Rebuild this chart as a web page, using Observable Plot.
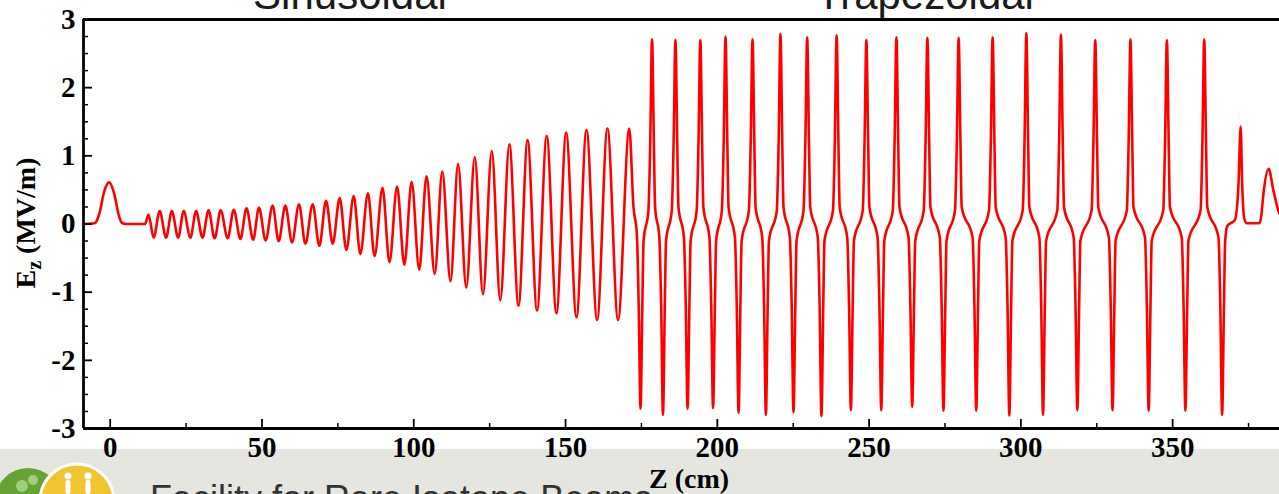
<!DOCTYPE html>
<html>
<head>
<meta charset="utf-8">
<script src="https://cdn.jsdelivr.net/npm/d3@7"></script>
<script src="https://cdn.jsdelivr.net/npm/@observablehq/plot@0.6"></script>
<style>
  html, body { margin: 0; padding: 0; background: #ffffff; }
  #wrap { position: relative; width: 1279px; height: 494px; overflow: hidden; }
  #bg, #fg, #chart { position: absolute; left: 0; top: 0; }
  #fg { pointer-events: none; }
</style>
</head>
<body>
<div id="wrap">
  <svg id="bg" width="1279" height="494">
    <rect x="0" y="449" width="1279" height="45" fill="#e5e6df"></rect>
    <circle cx="28" cy="501" r="33" fill="#64a434"></circle>
    <circle cx="22" cy="486" r="6" fill="#9fcf7a"></circle>
    <circle cx="33" cy="480" r="5" fill="#9fcf7a"></circle>
    <circle cx="77" cy="501" r="37" fill="#f0c531" stroke="#ffffff" stroke-width="3"></circle>
    <circle cx="68" cy="476" r="3.5" fill="#ffffff"></circle>
    <rect x="65.5" y="480" width="5" height="14" rx="2" fill="#ffffff"></rect>
    <circle cx="88" cy="476" r="3.5" fill="#ffffff"></circle>
    <rect x="85.5" y="480" width="5" height="14" rx="2" fill="#ffffff"></rect>
    <text x="150" y="511" font-family="'Liberation Sans', Arial, sans-serif" font-size="36" fill="#333333">Facility for Rare Isotope Beams</text>
  </svg>
  <div id="chart"></div>
  <svg id="fg" width="1279" height="494">
    <text x="350" y="9" text-anchor="middle" font-family="'Liberation Sans', Arial, sans-serif" font-size="42" fill="#1b1b1b">Sinusoidal</text>
    <text x="925" y="9" text-anchor="middle" font-family="'Liberation Sans', Arial, sans-serif" font-size="42" fill="#1b1b1b">Trapezoidal</text>
    <text transform="translate(35,223) rotate(-90)" text-anchor="middle" font-family="'Liberation Serif', 'Times New Roman', serif" font-weight="bold" font-size="28" fill="#000">E<tspan font-size="20" dy="6">z</tspan><tspan dy="-6"> (MV/m)</tspan></text>
    <text x="689" y="488" text-anchor="middle" font-family="'Liberation Serif', 'Times New Roman', serif" font-weight="bold" font-size="28" fill="#000">Z (cm)</text>
  </svg>
</div>
<script>
// ---- Data (Z in cm, Ez in MV/m) ----
const xDomain = [-8.8, 385.2];
const yDomain = [-3, 3];

const xMajorTicks = [0, 50, 100, 150, 200, 250, 300, 350];
const xMinorTicks = [25, 75, 125, 175, 225, 275, 325, 375];
const yMajorTicks = [-3, -2, -1, 0, 1, 2, 3];
const yMinorTicks = [-2.75, -2.5, -2.25, -1.75, -1.5, -1.25, -0.75, -0.5, -0.25,
                     0.25, 0.5, 0.75, 1.25, 1.5, 1.75, 2.25, 2.5, 2.75];

// entrance bump and drift
const entrance = [
  [-8.8, 0.00], [-5.2, 0.01], [-4.4, 0.05], [-3.3, 0.20], [-2.2, 0.44], [-0.3, 0.61],
  [1.6, 0.39], [2.7, 0.15], [3.8, 0.02], [5.0, 0.00], [11.5, 0.00]
];

// sinusoidal section: crests and troughs
const sinusoidal = [
  [12.6, 0.14], [14.3, -0.20], [16.3, 0.19], [18.4, -0.20], [20.3, 0.19], [22.4, -0.20],
  [24.2, 0.19], [26.4, -0.20], [28.3, 0.19], [30.4, -0.20], [32.4, 0.20], [34.4, -0.21],
  [36.4, 0.20], [38.7, -0.21], [40.7, 0.21], [42.9, -0.22], [44.9, 0.23], [47.1, -0.23],
  [49.0, 0.24], [51.2, -0.24], [53.5, 0.27], [55.5, -0.25], [57.7, 0.27], [59.9, -0.27],
  [62.2, 0.29], [64.3, -0.29], [66.7, 0.29], [68.9, -0.32], [71.1, 0.34], [73.3, -0.29],
  [75.6, 0.38], [77.8, -0.38], [80.2, 0.41], [82.4, -0.44], [84.9, 0.45], [87.1, -0.47],
  [89.7, 0.53], [92.0, -0.56], [94.5, 0.55], [96.9, -0.60], [99.3, 0.62], [101.8, -0.67],
  [104.2, 0.70], [106.9, -0.73], [109.4, 0.77], [112.1, -0.84], [114.6, 0.88], [117.3, -0.93],
  [120.1, 0.98], [122.8, -1.03], [125.7, 1.07], [128.5, -1.12], [131.5, 1.17], [134.5, -1.20],
  [137.5, 1.23], [140.6, -1.27], [143.8, 1.29], [147.0, -1.31], [150.2, 1.34], [153.6, -1.37],
  [156.9, 1.38], [160.4, -1.41], [163.8, 1.40], [167.3, -1.41], [171.0, 1.40],
  [172.4, 0.24], [173.5, -0.15], [174.1, -1.2]
];

// trapezoidal section: troughs, knees and crests
const trapezoidal = [
  [174.7, -2.71], [175.3, -1.2], [175.7, -0.25], [177.3, 0.2], [177.9, 1.2],
  [178.5, 2.71], [179.1, 1.2], [179.5, 0.25], [180.9, -0.2], [181.5, -1.2],
  [182.1, -2.80], [182.7, -1.2], [183.1, -0.25], [185.0, 0.2], [185.6, 1.2],
  [186.2, 2.70], [186.8, 1.2], [187.2, 0.25], [189.0, -0.2], [189.6, -1.2],
  [190.2, -2.71], [190.8, -1.2], [191.2, -0.25], [193.2, 0.2], [193.8, 1.2],
  [194.4, 2.70], [195.0, 1.2], [195.4, 0.25], [197.4, -0.2], [198.0, -1.2],
  [198.6, -2.70], [199.2, -1.2], [199.6, -0.25], [201.5, 0.2], [202.1, 1.2],
  [202.7, 2.75], [203.3, 1.2], [203.7, 0.25], [205.8, -0.2], [206.4, -1.2],
  [207.0, -2.77], [207.6, -1.2], [208.0, -0.25], [210.4, 0.2], [211.0, 1.2],
  [211.6, 2.71], [212.2, 1.2], [212.6, 0.25], [214.8, -0.2], [215.4, -1.2],
  [216.0, -2.80], [216.6, -1.2], [217.0, -0.25], [219.6, 0.2], [220.2, 1.2],
  [220.8, 2.79], [221.4, 1.2], [221.8, 0.25], [223.9, -0.2], [224.5, -1.2],
  [225.1, -2.76], [225.7, -1.2], [226.1, -0.25], [228.4, 0.2], [229.0, 1.2],
  [229.6, 2.74], [230.2, 1.2], [230.6, 0.25], [233.1, -0.2], [233.7, -1.2],
  [234.3, -2.82], [234.9, -1.2], [235.3, -0.25], [238.1, 0.2], [238.7, 1.2],
  [239.3, 2.77], [239.9, 1.2], [240.3, 0.25], [242.8, -0.2], [243.4, -1.2],
  [244.0, -2.73], [244.6, -1.2], [245.0, -0.25], [247.9, 0.2], [248.5, 1.2],
  [249.1, 2.70], [249.7, 1.2], [250.1, 0.25], [252.8, -0.2], [253.4, -1.2],
  [254.0, -2.73], [254.6, -1.2], [255.0, -0.25], [257.8, 0.2], [258.4, 1.2],
  [259.0, 2.74], [259.6, 1.2], [260.0, 0.25], [263.0, -0.2], [263.6, -1.2],
  [264.2, -2.68], [264.8, -1.2], [265.2, -0.25], [268.0, 0.2], [268.6, 1.2],
  [269.2, 2.73], [269.8, 1.2], [270.2, 0.25], [273.3, -0.2], [273.9, -1.2],
  [274.5, -2.74], [275.1, -1.2], [275.5, -0.25], [278.3, 0.2], [278.9, 1.2],
  [279.5, 2.73], [280.1, 1.2], [280.5, 0.25], [284.1, -0.2], [284.7, -1.2],
  [285.3, -2.74], [285.9, -1.2], [286.3, -0.25], [289.5, 0.2], [290.1, 1.2],
  [290.7, 2.74], [291.3, 1.2], [291.7, 0.25], [295.0, -0.2], [295.6, -1.2],
  [296.2, -2.81], [296.8, -1.2], [297.2, -0.25], [300.6, 0.2], [301.2, 1.2],
  [301.8, 2.80], [302.4, 1.2], [302.8, 0.25], [306.1, -0.2], [306.7, -1.2],
  [307.3, -2.80], [307.9, -1.2], [308.3, -0.25], [312.0, 0.2], [312.6, 1.2],
  [313.2, 2.78], [313.8, 1.2], [314.2, 0.25], [317.4, -0.2], [318.0, -1.2],
  [318.6, -2.73], [319.2, -1.2], [319.6, -0.25], [323.3, 0.2], [323.9, 1.2],
  [324.5, 2.70], [325.1, 1.2], [325.5, 0.25], [329.0, -0.2], [329.6, -1.2],
  [330.2, -2.73], [330.8, -1.2], [331.2, -0.25], [334.9, 0.2], [335.5, 1.2],
  [336.1, 2.71], [336.7, 1.2], [337.1, 0.25], [340.9, -0.2], [341.5, -1.2],
  [342.1, -2.74], [342.7, -1.2], [343.1, -0.25], [346.9, 0.2], [347.5, 1.2],
  [348.1, 2.70], [348.7, 1.2], [349.1, 0.25], [353.0, -0.2], [353.6, -1.2],
  [354.2, -2.74], [354.8, -1.2], [355.2, -0.25], [359.2, 0.2], [359.8, 1.2],
  [360.4, 2.71], [361.0, 1.2], [361.4, 0.25], [365.1, -0.2], [365.7, -1.2],
  [366.3, -2.80]
];

// exit: short end cell and exit bump
const exitSection = [
  [366.9, -1.2], [367.3, -0.25], [368.0, -0.03], [370.5, 0.06], [371.7, 0.59],
  [372.4, 1.43], [372.9, 0.59], [373.6, 0.08], [374.5, 0.01], [378.6, 0.01],
  [379.2, 0.12], [379.9, 0.44], [381.6, 0.81], [383.2, 0.49], [384.8, 0.20], [385.2, 0.15]
];

const field = [...entrance, ...sinusoidal, ...trapezoidal, ...exitSection]
  .map(([z, ez]) => ({z, ez}));

const fmt = d => `${d}`;

const chart = Plot.plot({
  width: 1279,
  height: 494,
  marginTop: 19,
  marginBottom: 66,
  marginLeft: 83,
  marginRight: 0,
  style: {
    fontFamily: "'Liberation Serif', 'Times New Roman', serif",
    fontSize: "29px",
    fontWeight: "bold",
    background: "transparent",
    color: "#000",
    overflow: "visible"
  },
  x: {domain: xDomain},
  y: {domain: yDomain},
  marks: [
    Plot.line(field, {x: "z", y: "ez", stroke: "#ff0000", strokeWidth: 2.6, curve: "monotone-x", clip: true}),
    // frame: left, bottom and top
    Plot.ruleX([xDomain[0]], {stroke: "#000", strokeWidth: 2.8}),
    Plot.ruleY(yDomain, {stroke: "#000", strokeWidth: 2.8}),
    // inward ticks
    Plot.axisY(yMajorTicks, {anchor: "left", tickSize: 9, dx: 9, strokeWidth: 1.8, tickFormat: () => "", label: null}),
    Plot.axisY(yMinorTicks, {anchor: "left", tickSize: 5, dx: 5, strokeWidth: 1.5, tickFormat: () => "", label: null}),
    Plot.axisX(xMajorTicks, {anchor: "bottom", tickSize: 9, dy: -9, strokeWidth: 1.8, tickFormat: () => "", label: null}),
    Plot.axisX(xMinorTicks, {anchor: "bottom", tickSize: 5, dy: -5, strokeWidth: 1.5, tickFormat: () => "", label: null}),
    // tick labels
    Plot.axisY(yMajorTicks, {anchor: "left", tickSize: 0, tickPadding: 8, tickFormat: fmt, label: null}),
    Plot.axisX(xMajorTicks, {anchor: "bottom", tickSize: 0, tickPadding: 8, tickFormat: fmt, label: null})
  ]
});
document.getElementById("chart").appendChild(chart);
</script>
</body>
</html>
